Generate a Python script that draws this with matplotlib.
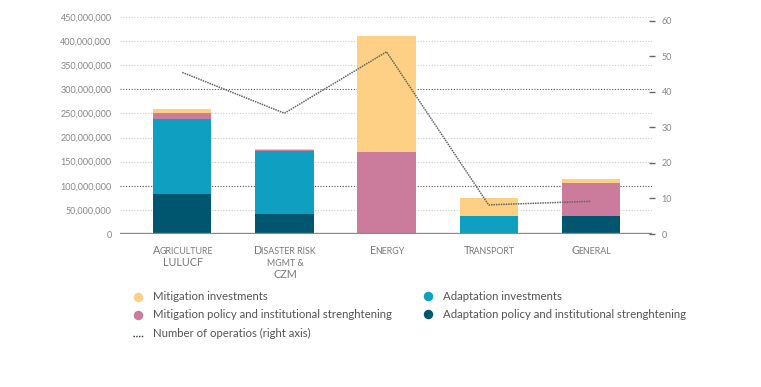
import numpy as np
import matplotlib.pyplot as plt
import matplotlib.transforms as mtransforms
from matplotlib.lines import Line2D

plt.rcParams["font.family"] = ["Lato", "DejaVu Sans"]

# values (US$)
sectors = [["Agriculture", "LULUCF"], ["Disaster risk", "mgmt &", "CZM"],
           ["Energy"], ["Transport"], ["General"]]
adapt_policy = np.array([82e6, 41.5e6, 0, 0, 38e6])
adapt_invest = np.array([157e6, 130e6, 0, 38e6, 0])
mitig_policy = np.array([11e6, 2.5e6, 170e6, 0, 68e6])
mitig_invest = np.array([9e6, 2e6, 240e6, 37e6, 8e6])
n_operations = [45.5, 34, 51.3, 8.2, 9.2]

c_mi = "#FDD085"
c_mp = "#CB7B9B"
c_ai = "#0FA0C1"
c_ap = "#00566F"

fig = plt.figure(figsize=(7.61, 3.87), dpi=100)
ax = fig.add_axes([120 / 761, 1 - 234 / 387, 532 / 761, 217 / 387])

x = np.arange(len(sectors))
w = 0.57
bottom = np.zeros(len(x))
for vals, col in [(adapt_policy, c_ap), (adapt_invest, c_ai),
                  (mitig_policy, c_mp), (mitig_invest, c_mi)]:
    ax.bar(x, vals, w, bottom=bottom, color=col, zorder=3)
    bottom += vals

ax.set_xlim(-0.61, 4.6)
ax.set_ylim(0, 450e6)
yt = np.arange(0, 450e6 + 1, 50e6)
ax.set_yticks(yt)
ax.set_yticklabels([f"{int(v):,}" for v in yt])
ax.tick_params(axis="y", length=0, pad=6, labelsize=6.5, labelcolor="#888888")
ax.set_xticks([])
for s in ax.spines.values():
    s.set_visible(False)
for v in yt[1:]:
    dark = v in (100e6, 300e6)
    ax.axhline(v, color="#555555" if dark else "#cccccc", lw=0.8,
               ls=(0, (1, 1.5)), zorder=1)
ax.axhline(0, color="#888888", lw=2.4, zorder=4)

# right axis: number of operations
ax2 = ax.twinx()
ax2.set_ylim(0, 61.1)
ax2.set_yticks(range(0, 61, 10))
ax2.tick_params(axis="y", direction="inout", length=4, width=1, color="#666666",
                pad=5, labelsize=6.5, labelcolor="#888888")
for s in ax2.spines.values():
    s.set_visible(False)
ax2.plot(x, n_operations, color="#666666", lw=1.1, ls=(0, (1, 0.6)), zorder=5)


# small-caps style category labels, drawn piece by piece
renderer = fig.canvas.get_renderer()
BIG, SMALL = 7.8, 6.4


def pieces(line):
    groups = []
    for ch in line:
        size = BIG if ch.isupper() else SMALL
        if ch == " " and groups:
            size = groups[-1][1]
        if groups and groups[-1][1] == size:
            groups[-1][0] += ch.upper()
        else:
            groups.append([ch.upper(), size])
    return groups


base = mtransforms.blended_transform_factory(ax.transData, fig.transFigure)
for xi, lines in zip(x, sectors):
    for k, line in enumerate(lines):
        yb = 1 - (254 + 12 * k) / 387
        groups = pieces(line)
        widths = []
        for t, s in groups:
            tmp = fig.text(0, 0, t, fontsize=s)
            widths.append(tmp.get_window_extent(renderer).width - 1.5)
            tmp.remove()
        dx = -sum(widths) / 2
        for (t, s), wd in zip(groups, widths):
            tr = mtransforms.offset_copy(base, fig=fig, x=dx, y=0, units="dots")
            fig.text(xi, yb, t, fontsize=s, color="#7a7a7a", transform=tr,
                     ha="left", va="baseline")
            dx += wd

# legend
entries = [(138, 297, c_mi, "Mitigation investments"),
           (138, 315, c_mp, "Mitigation policy and institutional strenghtening"),
           (428, 296, c_ai, "Adaptation investments"),
           (428, 314, c_ap, "Adaptation policy and institutional strenghtening")]
for px, py, col, lab in entries:
    fig.add_artist(Line2D([px / 761], [1 - py / 387], marker="o", ms=5.8,
                          color=col, mec=col, transform=fig.transFigure))
    fig.text((px + 15) / 761, 1 - py / 387, lab, fontsize=8.2, color="#555555",
             va="center", ha="left")
fig.add_artist(Line2D([133 / 761, 143 / 761], [1 - 336 / 387] * 2,
                      color="#333333", lw=1, ls=(0, (1, 1)),
                      transform=fig.transFigure))
fig.text(153 / 761, 1 - 333 / 387, "Number of operatios (right axis)",
         fontsize=8.2, color="#555555", va="center", ha="left")

fig.savefig("out.png", dpi=100)
